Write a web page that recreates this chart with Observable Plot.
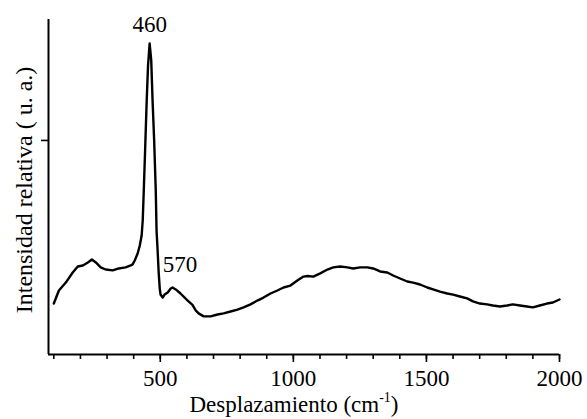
<!DOCTYPE html>
<html>
<head>
<meta charset="utf-8">
<script src="https://cdn.jsdelivr.net/npm/d3@7"></script>
<script src="https://cdn.jsdelivr.net/npm/@observablehq/plot@0.6"></script>
<style>
  html, body { margin: 0; padding: 0; background: white; }
  #chart { width: 587px; height: 419px; }
</style>
</head>
<body>
<div id="chart"></div>
<script>
// Raman shift (cm^-1)
const wavenumber = [100, 119, 145, 171, 190, 209, 228, 243, 258, 276, 295, 321, 344, 370, 389, 396, 404, 415, 423, 430,
  434, 438, 443, 449, 454, 460, 466, 471, 477, 483, 486, 490, 494, 498, 501, 509, 516, 528, 539, 546,
  558, 576, 603, 621, 633, 644, 663, 689, 715, 738, 764, 790, 813, 839, 865, 888, 914, 940, 963, 989,
  1015, 1038, 1053, 1075, 1101, 1128, 1150, 1176, 1203, 1225, 1251, 1278, 1300, 1326, 1353, 1375, 1401, 1428, 1450, 1476,
  1503, 1525, 1551, 1578, 1600, 1626, 1653, 1675, 1701, 1728, 1750, 1776, 1803, 1825, 1851, 1878, 1900, 1926, 1953, 1975, 2000];
// Relative intensity (a.u.)
const intensity = [238, 299, 336, 383, 411, 416, 430, 444, 430, 407, 397, 393, 402, 407, 416, 421, 439, 472, 509, 556,
  626, 766, 953, 1187, 1350, 1453, 1374, 1187, 1000, 766, 579, 486, 383, 308, 280, 266, 280, 290, 308, 313,
  304, 285, 252, 232, 206, 192, 178, 178, 187, 192, 201, 210, 220, 234, 252, 266, 285, 299, 313, 322,
  346, 364, 367, 364, 379, 397, 407, 411, 407, 402, 407, 407, 402, 388, 383, 369, 355, 341, 336, 327,
  313, 304, 294, 285, 280, 271, 262, 248, 238, 234, 229, 224, 229, 234, 229, 224, 220, 229, 238, 243, 257];

const xDomain = [80, 2000];
const yDomain = [0, 1565];
const xMajorTicks = [500, 1000, 1500, 2000];
const xMinorTicks = [100, 200, 300, 400, 500, 600, 700, 800, 900, 1000, 1100, 1200, 1300, 1400, 1500, 1600, 1700, 1800, 1900, 2000];
const yTicks = [1000];

const peakLabels = ["460", "570"];
const peakX = [460, 570];
const peakY = [1453, 300];

const data = wavenumber.map((w, i) => ({w, v: intensity[i]}));

const font = "'Liberation Serif', 'DejaVu Serif', serif";

const chart = Plot.plot({
  width: 587,
  height: 419,
  marginLeft: 48,
  marginRight: 28,
  marginTop: 19,
  marginBottom: 65,
  style: {fontFamily: font, fontSize: "23px", background: "white", color: "black"},
  x: {domain: xDomain, label: null},
  y: {domain: yDomain, label: null},
  marks: [
    Plot.axisX({ticks: xMinorTicks, tickSize: 5, strokeWidth: 1.6, text: null, label: null}),
    Plot.axisX({ticks: xMajorTicks, tickSize: 8, tickPadding: 7, strokeWidth: 1.6, tickFormat: d => String(d), label: null, fill: "black"}),
    Plot.axisY({ticks: yTicks, tickSize: 7, strokeWidth: 1.6, tickFormat: () => "", label: null}),
    Plot.ruleY([yDomain[0]], {stroke: "black", strokeWidth: 2}),
    Plot.ruleX([xDomain[0]], {stroke: "black", strokeWidth: 2}),
    Plot.line(data, {x: "w", y: "v", stroke: "black", strokeWidth: 2.4, strokeLinejoin: "round"}),
    Plot.text([0], {x: () => peakX[0], y: () => peakY[0], text: () => peakLabels[0], dy: -19, fill: "black", fontSize: 23}),
    Plot.text([1], {x: () => peakX[1], y: () => peakY[1], text: () => peakLabels[1], dx: 1, dy: -26, fill: "black", fontSize: 23})
  ]
});

const svg = d3.select(chart);
// x axis title with superscript
const xt = svg.append("text")
  .attr("x", 294).attr("y", 412)
  .attr("text-anchor", "middle")
  .attr("fill", "black")
  .attr("font-family", font).attr("font-size", 23);
xt.append("tspan").text("Desplazamiento (cm");
xt.append("tspan").attr("dy", -10).attr("font-size", 14).text("-1");
xt.append("tspan").attr("dy", 10).text(")");
// y axis title
svg.append("text")
  .attr("transform", "translate(32,190) rotate(-90)")
  .attr("text-anchor", "middle")
  .attr("fill", "black")
  .attr("font-family", font).attr("font-size", 24)
  .text("Intensidad relativa ( u. a.)");

document.getElementById("chart").appendChild(chart);
</script>
</body>
</html>
